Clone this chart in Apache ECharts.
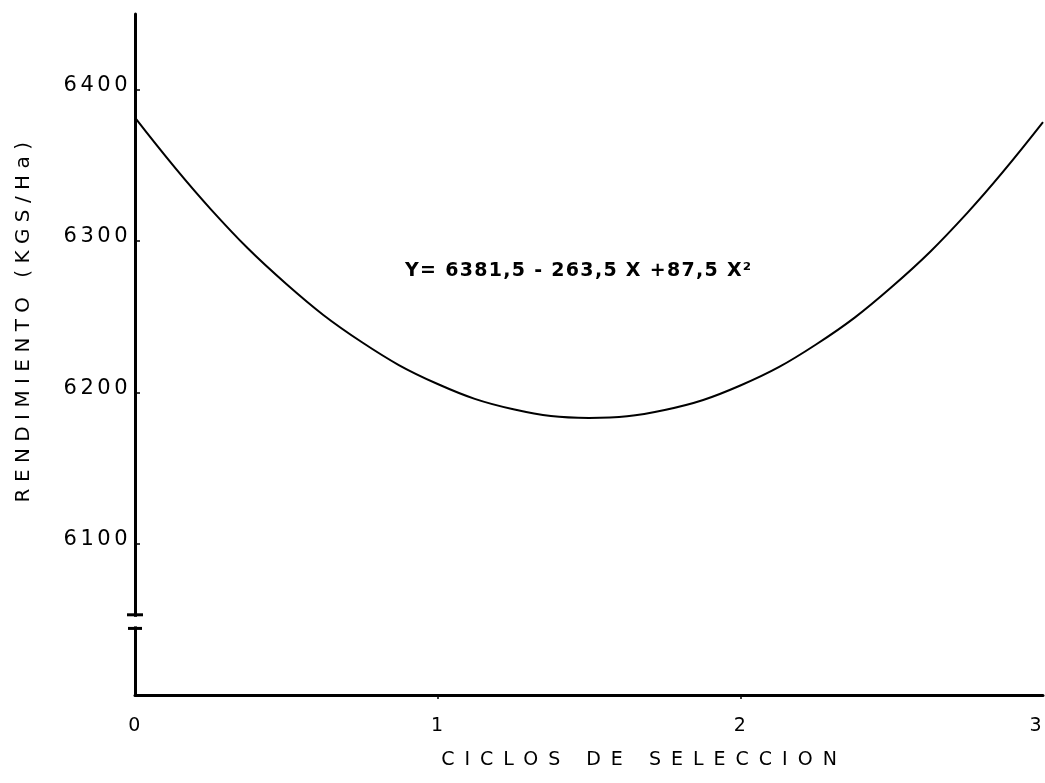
<!DOCTYPE html>
<html>
<head>
<meta charset="utf-8">
<style>
  html, body { margin: 0; padding: 0; background: #ffffff; }
  #chart { width: 1045px; height: 783px; }
</style>
<script src="https://cdn.jsdelivr.net/npm/echarts@6/dist/echarts.min.js"></script>
</head>
<body>
<div id="chart"></div>
<script>
// Selection cycles (x) and fitted yield Y = 6381,5 - 263,5 X + 87,5 X^2 (kg/ha)
const cycles = [0, 0.25, 0.5, 0.75, 1, 1.25, 1.5, 1.75, 2, 2.25, 2.5, 2.75, 3];
const yieldKg = [6381.5, 6321.1, 6271.6, 6233.1, 6205.5, 6188.8, 6183.1, 6188.3, 6204.5, 6231.6, 6269.6, 6318.6, 6378.5];

const xTicks = [0, 1, 2, 3];
const xMinorTicks = [1, 2];
const yTicks = [6100, 6200, 6300, 6400];
const yBreak = [6044, 6053];

const equationText = 'Y= 6381,5 - 263,5 X +87,5 X²';
const xTitle = 'CICLOS DE SELECCION';
const yTitle = 'RENDIMIENTO (KGS/Ha)';

// Stencil-style lettering: widen the spacing of the labels when the canvas supports it
const letterSpacing = {};
letterSpacing[equationText] = 1.3;
letterSpacing[xTitle] = 10;
letterSpacing[yTitle] = 6.4;
yTicks.forEach(function (v) { letterSpacing[String(v)] = 3.5; });

const nativeFillText = CanvasRenderingContext2D.prototype.fillText;
CanvasRenderingContext2D.prototype.fillText = function (text) {
  const s = letterSpacing[text];
  if (!s || !('letterSpacing' in this)) {
    return nativeFillText.apply(this, arguments);
  }
  const prev = this.letterSpacing;
  this.letterSpacing = s + 'px';
  nativeFillText.apply(this, arguments);
  this.letterSpacing = prev;
};

const FONT = '"DejaVu Sans", sans-serif';
const INK = '#000000';

const chart = echarts.init(document.getElementById('chart'), null, { renderer: 'canvas' });

const option = {
  backgroundColor: '#ffffff',
  animation: false,
  grid: { left: 135, right: 2, top: 14, bottom: 88, containLabel: false, outerBoundsMode: 'none' },
  xAxis: {
    type: 'value',
    min: 0,
    max: 3,
    interval: 1,
    axisLine: { show: true, lineStyle: { color: INK, width: 3 } },
    axisTick: { show: true, inside: false, length: 4, customValues: xMinorTicks, lineStyle: { color: INK, width: 1.5 } },
    axisLabel: {
      customValues: xTicks,
      margin: 22,
      color: INK,
      fontFamily: FONT,
      fontSize: 19,
      alignMaxLabel: 'right',
      formatter: function (v) { return String(v); }
    },
    splitLine: { show: false }
  },
  yAxis: {
    type: 'value',
    min: 6000,
    max: 6450,
    interval: 100,
    axisLine: { show: true, lineStyle: { color: INK, width: 3 } },
    axisTick: { show: true, inside: true, length: 5, customValues: yTicks, lineStyle: { color: INK, width: 1.5 } },
    axisLabel: {
      customValues: yTicks,
      margin: 4,
      color: INK,
      fontFamily: FONT,
      fontSize: 21,
      verticalAlign: 'bottom',
      lineHeight: 8,
      formatter: function (v) { return String(v); }
    },
    splitLine: { show: false }
  },
  series: [{
    type: 'line',
    data: cycles.map(function (c, i) { return [c, yieldKg[i]]; }),
    smooth: 0.4,
    showSymbol: false,
    lineStyle: { color: INK, width: 2 },
    z: 3
  }]
};

chart.setOption(option);

// Text annotations plus the break marks on the y axis between the two break values
const axisX = chart.convertToPixel({ xAxisIndex: 0 }, 0);
const yHigh = chart.convertToPixel({ yAxisIndex: 0 }, yBreak[1]);
const yLow = chart.convertToPixel({ yAxisIndex: 0 }, yBreak[0]);

chart.setOption({
  graphic: [
    {
      id: 'equation', type: 'text',
      x: 405, y: 271,
      style: { text: equationText, fill: INK, font: 'bold 19px ' + FONT, textAlign: 'left', textVerticalAlign: 'middle' }
    },
    {
      id: 'xTitle', type: 'text',
      x: 644, y: 760,
      style: { text: xTitle, fill: INK, font: '19px ' + FONT, textAlign: 'center', textVerticalAlign: 'middle' }
    },
    {
      id: 'yTitle', type: 'text',
      x: 24, y: 319,
      rotation: Math.PI / 2,
      style: { text: yTitle, fill: INK, font: '20px ' + FONT, textAlign: 'center', textVerticalAlign: 'middle' }
    },
    {
      id: 'breakGap', type: 'rect', z: 50,
      shape: { x: axisX - 4, y: yHigh + 2, width: 8, height: yLow - yHigh - 4 },
      style: { fill: '#ffffff' }
    },
    {
      id: 'breakTop', type: 'line', z: 51,
      shape: { x1: axisX - 8, y1: yHigh, x2: axisX + 8, y2: yHigh },
      style: { stroke: INK, lineWidth: 3 }
    },
    {
      id: 'breakBottom', type: 'line', z: 51,
      shape: { x1: axisX - 7, y1: yLow, x2: axisX + 7, y2: yLow },
      style: { stroke: INK, lineWidth: 3 }
    }
  ]
});
</script>
</body>
</html>
